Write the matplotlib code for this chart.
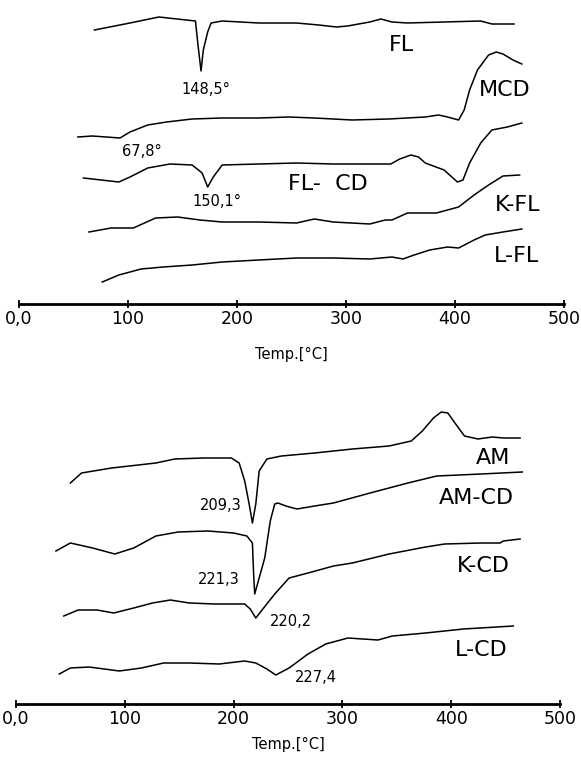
import matplotlib.pyplot as plt

plt.rcParams['font.family'] = ['DejaVu Sans']

# ---------------- top panel: flurbiprofen series (signal in arbitrary units) ----------------
fl_t = [69.2, 101.8, 128.3, 161.9, 164, 167, 169.1, 173.1, 176.2, 186.4, 220, 254.6, 275,
        291.2, 301.4, 321.8, 332, 342.2, 356.4, 390, 423.6, 433.8, 454.2]
fl_s = [274, 281, 287, 283, 261, 233, 254, 272, 281, 283, 281, 281, 279,
        277, 278, 282, 285, 282, 281, 282, 283, 280, 280]

mcd_t = [54, 67.2, 92.7, 101.8, 118.1, 135.4, 158.8, 186.4, 220, 247.5, 270.9, 305.5, 339.1,
         372.7, 384.9, 393.1, 403.3, 408.4, 413.4, 420.6, 430.8, 437.9, 444, 453.2, 461.3]
mcd_s = [167, 168, 166, 172, 179, 182, 185, 186, 186, 187, 186, 184, 185,
         187, 189, 187, 184, 194, 214, 234, 249, 252, 250, 244, 240]

flcd_t = [59.1, 91.6, 101.8, 118.1, 138.5, 158.9, 168, 173.1, 178.2, 186.4, 220, 254.6, 288.2,
          341.1, 349.3, 359.5, 366.6, 372.7, 390, 402.2, 407.3, 413.4, 423.6, 433.8, 448, 461.3]
flcd_s = [126, 122, 127, 136, 140, 139, 131, 117, 127, 139, 140, 141, 140,
          140, 145, 149, 147, 141, 134, 122, 124, 141, 161, 174, 177, 181]

kfl_t = [64.2, 84.5, 104.9, 125.3, 145.6, 166, 186.4, 220, 254.6, 270.9, 288.2, 321.8, 336,
         342.2, 356.4, 382.9, 403.3, 417.5, 430.8, 444, 459.3]
kfl_s = [72, 76, 76, 86, 87, 84, 82, 82, 81, 85, 82, 80, 84,
         84, 91, 91, 97, 109, 119, 128, 129]

lfl_t = [76.4, 91.6, 112, 132.4, 158.9, 186.4, 220, 254.6, 288.2, 321.8, 342.2, 352.3, 362.5,
         376.8, 393.1, 403.3, 417.5, 427.7, 444, 461.3]
lfl_s = [22, 29, 35, 37, 39, 42, 44, 46, 46, 45, 47, 45, 49,
         54, 57, 56, 64, 69, 72, 75]

# ---------------- bottom panel: amine series ----------------
am_t = [50, 60.2, 87.8, 128.6, 145.9, 172.4, 198, 205.1, 210.2, 214.3, 217.3, 220.4, 223.5,
        230.6, 243.9, 274.5, 309.2, 342.9, 363.3, 373.5, 383.7, 390.8, 396.9, 404.1, 412.2,
        424.5, 437.8, 448, 463.3]
am_s = [221, 231, 236, 241, 245, 246, 246, 241, 223, 200, 181, 200, 233,
        245, 248, 251, 255, 258, 263, 273, 286, 292, 291, 280, 268,
        265, 267, 266, 266]

amcd_t = [36.7, 50, 70.4, 90.8, 108.2, 128.6, 149, 176.5, 200, 212.2, 217.3, 218.4, 219.4,
          223.5, 228.6, 233.7, 237.8, 240.8, 248, 258.2, 274.5, 291.8, 325.5, 360.2, 386.7,
          427.6, 465.3]
amcd_s = [153, 161, 156, 150, 156, 168, 172, 173, 171, 168, 161, 130, 110,
          126, 146, 183, 200, 201, 198, 195, 198, 201, 211, 221, 228,
          230, 232]

kcd_t = [43.9, 57.1, 74.5, 89.8, 108.2, 125.5, 141.8, 159.2, 182.7, 210.2, 215.3, 220.4, 227.6,
         237.8, 251, 268.4, 291.8, 309.2, 342.9, 376.5, 393.9, 427.6, 444.9, 448, 463.3]
kcd_s = [88, 94, 94, 91, 96, 101, 104, 101, 100, 100, 95, 86, 96,
         110, 126, 131, 138, 141, 150, 157, 160, 161, 161, 163, 165]

lcd_t = [39.8, 50, 67.3, 94.9, 115.3, 135.7, 159.2, 186.7, 210.2, 220.4, 230.6, 238.8, 251,
         268.4, 284.7, 305.1, 332.7, 345.9, 376.5, 411.2, 457.1]
lcd_s = [30, 36, 37, 33, 36, 41, 41, 40, 43, 41, 35, 29, 36,
         50, 60, 66, 64, 68, 71, 75, 78]

tick_vals = [0, 100, 200, 300, 400, 500]
tick_labels = ['0,0', '100', '200', '300', '400', '500']

# curve names, peak temperatures: (text, T, signal)
top_names = [('FL', 351, 259), ('MCD', 446, 214), ('FL-  CD', 283, 120),
             ('K-FL', 457, 99), ('L-FL', 456, 48)]
top_peaks = [('148,5°', 171, 214), ('67,8°', 113, 152), ('150,1°', 182, 102)]
bot_names = [('AM', 438, 246), ('AM-CD', 423, 206), ('K-CD', 430, 138), ('L-CD', 428, 54)]
bot_peaks = [('209,3', 188, 198), ('221,3', 186, 125), ('220,2', 253, 82), ('227,4', 276, 26)]

fig = plt.figure(figsize=(5.81, 7.6), dpi=100)
ax1 = fig.add_axes([19 / 581, 1 - 304 / 760, 545 / 581, 304 / 760])
ax2 = fig.add_axes([16 / 581, 1 - 704 / 760, 544 / 581, 344 / 760])

tick_font = ['Liberation Sans Narrow', 'DejaVu Sans']


def style(ax, ytop, label_y):
    ax.set_xlim(0, 500)
    ax.set_ylim(0, ytop)
    for s in ['top', 'left', 'right']:
        ax.spines[s].set_visible(False)
    ax.spines['bottom'].set_linewidth(2.0)
    ax.set_yticks([])
    ax.set_xticks(tick_vals)
    ax.set_xticklabels(tick_labels, family=tick_font, fontsize=12.5)
    ax.tick_params(axis='x', direction='inout', length=6, width=1.3, pad=1.5)
    ax.set_xlabel('Temp.[°C]', fontsize=10.5)
    ax.xaxis.set_label_coords(0.5, label_y)
    ax.patch.set_alpha(0)


for t, s in [(fl_t, fl_s), (mcd_t, mcd_s), (flcd_t, flcd_s), (kfl_t, kfl_s), (lfl_t, lfl_s)]:
    ax1.plot(t, s, color='black', lw=1.1)
for t, s in [(am_t, am_s), (amcd_t, amcd_s), (kcd_t, kcd_s), (lcd_t, lcd_s)]:
    ax2.plot(t, s, color='black', lw=1.1)

style(ax1, 304, -0.14)
style(ax2, 344, -0.096)

for ax, names, peaks in [(ax1, top_names, top_peaks), (ax2, bot_names, bot_peaks)]:
    for txt, x, y in names:
        ax.text(x, y, txt, fontsize=16, ha='center', va='center')
    for txt, x, y in peaks:
        ax.text(x, y, txt, fontsize=10.5, ha='center', va='center')

fig.savefig('out.png', dpi=100)
